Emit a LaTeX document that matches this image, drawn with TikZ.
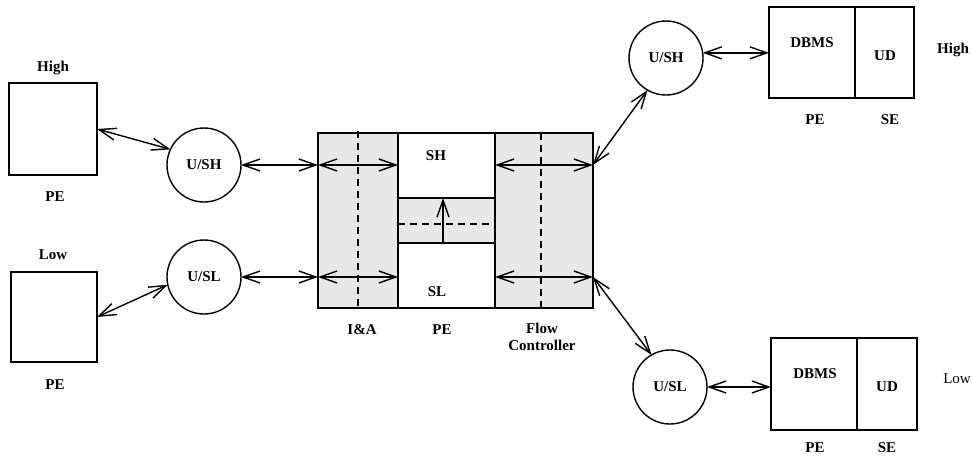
\documentclass[tikz,border=0pt]{standalone}
\usepackage{fontspec}
\setmainfont{Liberation Serif}
\usetikzlibrary{arrows.meta}
\begin{document}
\begin{tikzpicture}[x=1pt,y=-1pt,
  every node/.style={font=\fontsize{15}{17}\selectfont\bfseries},
  box/.style={draw, line width=1.4pt, inner sep=0pt, outer sep=0pt},
  unit/.style={draw, circle, line width=1.4pt, minimum size=74pt, inner sep=0pt, outer sep=0pt},
  graybox/.style={box, fill=black!9},
  lbl/.style={anchor=base, inner sep=0pt},
  barb/.tip={Straight Barb[length=17pt,width=12pt,line width=1.4pt]},
  conn/.style={line width=1.4pt, barb-barb},
  oneway/.style={line width=1.4pt, -barb},
  dsh/.style={line width=1.4pt, dash pattern=on 7pt off 5pt}
]
\useasboundingbox (0,0) rectangle (972,456);

% left side
\node[box, minimum width=88pt, minimum height=92pt] (peH) at (53,129) {};
\node[box, minimum width=86pt, minimum height=90pt] (peL) at (54,317) {};
\node[lbl] (tHigh) at (53,71) {High};
\node[lbl] (tpeH) at (55,201) {PE};
\node[lbl] (tLow) at (53,259) {Low};
\node[lbl] (tpeL) at (55,389) {PE};
\node[unit] (uSHL) at (204,165) {U/SH};
\node[unit] (uSLL) at (204,277) {U/SL};

% central block
\node[graybox, minimum width=80pt, minimum height=175pt] (lcol) at (358,220.5) {};
\node[graybox, minimum width=98pt, minimum height=175pt] (rcol) at (544,220.5) {};
\node[box, minimum width=97pt, minimum height=65pt] (sh) at (446.5,165.5) {};
\node[graybox, minimum width=97pt, minimum height=45pt] (strip) at (446.5,220.5) {};
\node[box, minimum width=97pt, minimum height=65pt] (sl) at (446.5,275.5) {};
\node[lbl] (tSH) at (436,160) {SH};
\node[lbl] (tSL) at (437,296) {SL};
\draw[dsh] ([yshift=2pt]lcol.north) -- (lcol.south);
\draw[dsh] ([xshift=-3pt]rcol.north) -- ([xshift=-3pt]rcol.south);
\draw[dsh] ([yshift=-3.5pt]strip.west) -- ([yshift=-3.5pt]strip.east);
\draw[oneway] ([xshift=-3.5pt]strip.south) -- ([xshift=-3.5pt]strip.north);
\node[lbl] (tIA) at (362,334) {I\&A};
\node[lbl] (tPEc) at (442,334) {PE};
\node[lbl, anchor=center, align=center] (tFC) at (542,337) {Flow\\Controller};

% right side
\node[unit] (uSHR) at (666,58) {U/SH};
\node[unit] (uSLR) at (670,387) {U/SL};
\node[box, minimum width=86pt, minimum height=91pt] (dbmsH) at (812,52.5) {};
\node[box, minimum width=59pt, minimum height=91pt] (udH) at (884.5,52.5) {};
\node[box, minimum width=86pt, minimum height=92pt] (dbmsL) at (814,384) {};
\node[box, minimum width=60pt, minimum height=92pt] (udL) at (887,384) {};
\node[lbl] (tDBMSH) at (812,47) {DBMS};
\node[lbl] (tUDH) at (885,60) {UD};
\node[lbl] (tHighR) at (953,53) {High};
\node[lbl] (tpeHR) at (815,124) {PE};
\node[lbl] (tseHR) at (890,124) {SE};
\node[lbl] (tDBMSL) at (815,378) {DBMS};
\node[lbl] (tUDL) at (887,391) {UD};
\node[lbl, font=\fontsize{15}{17}\selectfont] (tLowR) at (957,383) {Low};
\node[lbl] (tpeLR) at (815,452) {PE};
\node[lbl] (tseLR) at (887,452) {SE};

% connectors
\draw[conn] (peH.east) -- (uSHL.155);
\draw[conn] (peL.east) -- (uSLL.192);
\draw[conn] (uSHL.east) -- (uSHL.east -| lcol.west);
\draw[conn] (uSHL.east -| lcol.west) -- (uSHL.east -| lcol.east);
\draw[conn] (uSLL.east) -- (uSLL.east -| lcol.west);
\draw[conn] (uSLL.east -| lcol.west) -- (uSLL.east -| lcol.east);
\draw[conn] (uSHL.east -| rcol.west) -- (uSHL.east -| rcol.east);
\draw[conn] (uSLL.east -| rcol.west) -- (uSLL.east -| rcol.east);
\draw[conn] (uSHL.east -| rcol.east) -- (uSHR.240);
\draw[conn] (uSLL.east -| rcol.east) -- (uSLR.120);
\draw[conn] (uSHR.8) -- (uSHR.8 -| dbmsH.west);
\draw[conn] (uSLR.east) -- (uSLR.east -| dbmsL.west);
\end{tikzpicture}
\end{document}
